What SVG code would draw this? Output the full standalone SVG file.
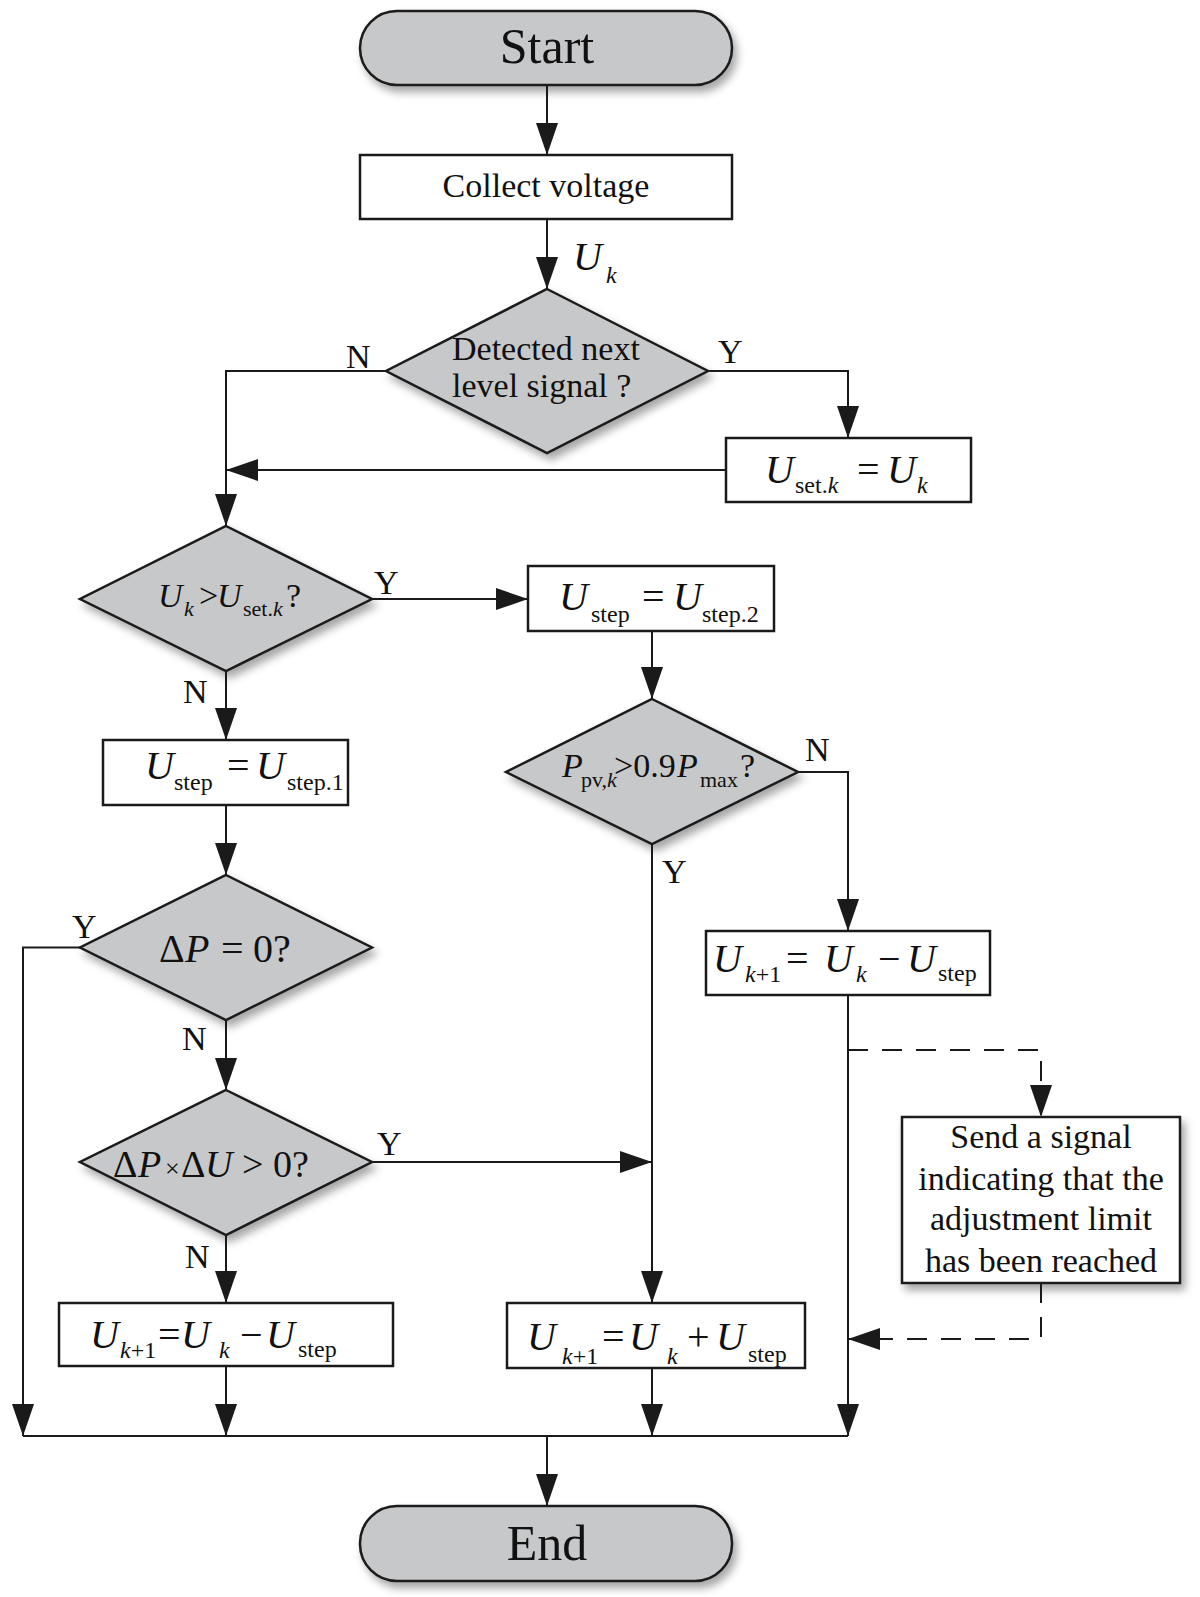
<svg xmlns="http://www.w3.org/2000/svg" width="1200" height="1597" viewBox="0 0 1200 1597">
<defs>
<filter id="sh" x="-10%" y="-10%" width="130%" height="140%">
<feDropShadow dx="4" dy="6" stdDeviation="4" flood-color="#000" flood-opacity="0.35"/>
</filter>
<marker id="ah" markerUnits="userSpaceOnUse" markerWidth="32" markerHeight="22" refX="32" refY="11" orient="auto">
<path d="M0,0 L32,11 L0,22 z" fill="#1a1a1a"/>
</marker>
</defs>
<style>
.f{font-family:"Liberation Serif","Times New Roman",serif;fill:#111}
.lbl{font-size:34px}
.m{font-size:40px;font-style:italic}
.o{font-size:40px}
.s{font-size:24px}
.si{font-size:24px;font-style:italic}
.dm{font-size:34px;font-style:italic}
.do{font-size:34px}
.ds{font-size:22px}
.dsi{font-size:22px;font-style:italic}
.grey{fill:#c7c8ca;stroke:#1a1a1a;stroke-width:2.5}
.box{fill:#fff;stroke:#1a1a1a;stroke-width:2.5}
.ln{fill:none;stroke:#1a1a1a;stroke-width:2}
.ar{marker-end:url(#ah)}
.dash{stroke-dasharray:20 14}
.c{text-anchor:middle}
</style>

<g id="start">
<rect x="360" y="11" width="372" height="74" rx="37" ry="37" class="grey" filter="url(#sh)"/>
<text class="f c" x="547" y="63" font-size="50">Start</text>
</g>

<g id="collect">
<rect x="360" y="155" width="372" height="64" class="box"/>
<text class="f lbl c" x="546" y="197">Collect voltage</text>
</g>

<g id="uk-label">
<text class="f"><tspan class="m" x="573" y="270">U</tspan><tspan class="si" x="606" y="283">k</tspan></text>
</g>

<g id="d1">
<polygon points="547,289 708,371 547,453 386,371" class="grey" filter="url(#sh)"/>
<text class="f lbl"><tspan x="452" y="360">Detected next</tspan><tspan x="452" y="397">level signal ?</tspan></text>
</g>

<g id="uset">
<rect x="726" y="438" width="245" height="64" class="box"/>
<text class="f"><tspan class="m" x="765" y="483">U</tspan><tspan class="s" x="795" y="493">set.</tspan><tspan class="si">k</tspan><tspan class="o" x="857" y="483">=</tspan><tspan class="m" x="887" y="483">U</tspan><tspan class="si" x="917" y="493">k</tspan></text>
</g>

<g id="d2">
<polygon points="226,526 372,599 226,671 80,599" class="grey" filter="url(#sh)"/>
<text class="f"><tspan class="dm" x="158" y="607">U</tspan><tspan class="dsi" x="184" y="616">k</tspan><tspan class="do" x="199" y="607">&gt;</tspan><tspan class="dm" x="217" y="607">U</tspan><tspan class="ds" x="243" y="616">set.</tspan><tspan class="dsi">k</tspan><tspan class="do" x="286" y="607">?</tspan></text>
</g>

<g id="ustep2">
<rect x="528" y="566" width="246" height="65" class="box"/>
<text class="f"><tspan class="m" x="559" y="610">U</tspan><tspan class="s" x="591" y="622">step</tspan><tspan class="o" x="642" y="610">=</tspan><tspan class="m" x="673" y="610">U</tspan><tspan class="s" x="702" y="622">step.2</tspan></text>
</g>

<g id="ustep1">
<rect x="103" y="740" width="245" height="65" class="box"/>
<text class="f"><tspan class="m" x="145" y="779">U</tspan><tspan class="s" x="174" y="790">step</tspan><tspan class="o" x="227" y="779">=</tspan><tspan class="m" x="256" y="779">U</tspan><tspan class="s" x="287" y="790">step.1</tspan></text>
</g>

<g id="d4">
<polygon points="652,699 798,772 652,844 506,772" class="grey" filter="url(#sh)"/>
<text class="f"><tspan class="dm" x="562" y="777">P</tspan><tspan class="ds" x="581" y="787">pv,</tspan><tspan class="dsi">k</tspan><tspan class="do" x="614" y="777">&gt;0.9</tspan><tspan class="dm" x="677" y="777">P</tspan><tspan class="ds" x="700" y="787">max</tspan><tspan class="do" x="740" y="777">?</tspan></text>
</g>

<g id="uminus-right">
<rect x="706" y="931" width="284" height="64" class="box"/>
<text class="f"><tspan class="m" x="713" y="972">U</tspan><tspan class="si" x="745" y="982">k</tspan><tspan class="s">+1</tspan><tspan class="o" x="786" y="972">=</tspan><tspan class="m" x="824" y="972">U</tspan><tspan class="si" x="856" y="982">k</tspan><tspan class="o" x="878" y="972">&#8722;</tspan><tspan class="m" x="907" y="972">U</tspan><tspan class="s" x="938" y="981">step</tspan></text>
</g>

<g id="dp0">
<polygon points="226,875 372,947.5 226,1020 80,947.5" class="grey" filter="url(#sh)"/>
<text class="f"><tspan class="o" x="159" y="962">&#916;</tspan><tspan class="m" x="185" y="962">P</tspan><tspan class="o" x="221" y="962">=</tspan><tspan class="o" x="253" y="962">0?</tspan></text>
</g>

<g id="dpdu">
<polygon points="226,1090 372,1162 226,1235 80,1162" class="grey" filter="url(#sh)"/>
<text class="f"><tspan x="113" y="1177" font-size="38">&#916;</tspan><tspan x="138" y="1177" font-size="38" font-style="italic">P</tspan><tspan x="165" y="1177" font-size="26">&#215;</tspan><tspan x="181" y="1177" font-size="38">&#916;</tspan><tspan x="205" y="1177" font-size="38" font-style="italic">U</tspan><tspan x="242" y="1177" font-size="38">&gt;</tspan><tspan x="273" y="1177" font-size="38">0?</tspan></text>
</g>

<g id="send">
<rect x="902" y="1117" width="278" height="166" class="box" filter="url(#sh)"/>
<text class="f lbl c"><tspan x="1041" y="1148">Send a signal</tspan><tspan x="1041" y="1190">indicating that the</tspan><tspan x="1041" y="1230">adjustment limit</tspan><tspan x="1041" y="1272">has been reached</tspan></text>
</g>

<g id="uminus-left">
<rect x="59" y="1303" width="334" height="63" class="box"/>
<text class="f"><tspan class="m" x="90" y="1348">U</tspan><tspan class="si" x="120" y="1358">k</tspan><tspan class="s">+1</tspan><tspan class="o" x="158" y="1348">=</tspan><tspan class="m" x="181" y="1348">U</tspan><tspan class="si" x="219" y="1358">k</tspan><tspan class="o" x="240" y="1348">&#8722;</tspan><tspan class="m" x="266" y="1348">U</tspan><tspan class="s" x="298" y="1357">step</tspan></text>
</g>

<g id="uplus">
<rect x="507" y="1303" width="298" height="65" class="box"/>
<text class="f"><tspan class="m" x="527" y="1350">U</tspan><tspan class="si" x="562" y="1364">k</tspan><tspan class="s">+1</tspan><tspan class="o" x="602" y="1350">=</tspan><tspan class="m" x="629" y="1350">U</tspan><tspan class="si" x="667" y="1364">k</tspan><tspan class="o" x="687" y="1350">+</tspan><tspan class="m" x="716" y="1350">U</tspan><tspan class="s" x="748" y="1362">step</tspan></text>
</g>

<g id="end">
<rect x="360" y="1506" width="372" height="75" rx="37" ry="37" class="grey" filter="url(#sh)"/>
<text class="f c" x="547" y="1560" font-size="50">End</text>
</g>

<g id="connectors">
<line x1="547" y1="85" x2="547" y2="155" class="ln ar"/>
<line x1="547" y1="219" x2="547" y2="289" class="ln ar"/>
<polyline points="386,371 226,371 226,526" class="ln ar"/>
<polyline points="708,371 848,371 848,438" class="ln ar"/>
<line x1="726" y1="470" x2="226" y2="470" class="ln ar"/>
<line x1="372" y1="599" x2="528" y2="599" class="ln ar"/>
<line x1="226" y1="671" x2="226" y2="740" class="ln ar"/>
<line x1="652" y1="631" x2="652" y2="699" class="ln ar"/>
<polyline points="798,772 848,772 848,931" class="ln ar"/>
<line x1="226" y1="805" x2="226" y2="875" class="ln ar"/>
<polyline points="80,947.5 23,947.5 23,1436" class="ln ar"/>
<line x1="226" y1="1020" x2="226" y2="1090" class="ln ar"/>
<line x1="372" y1="1162" x2="652" y2="1162" class="ln ar"/>
<line x1="652" y1="844" x2="652" y2="1303" class="ln ar"/>
<line x1="226" y1="1235" x2="226" y2="1303" class="ln ar"/>
<line x1="848" y1="995" x2="848" y2="1436" class="ln ar"/>
<polyline points="848,1050 1041,1050 1041,1117" class="ln ar dash"/>
<polyline points="1041,1283 1041,1339 848,1339" class="ln ar dash"/>
<line x1="226" y1="1366" x2="226" y2="1436" class="ln ar"/>
<line x1="652" y1="1368" x2="652" y2="1436" class="ln ar"/>
<line x1="23" y1="1436" x2="848" y2="1436" class="ln"/>
<line x1="547" y1="1436" x2="547" y2="1506" class="ln ar"/>
<g class="f lbl">
<text x="346" y="368">N</text>
<text x="718" y="363">Y</text>
<text x="374" y="594">Y</text>
<text x="183" y="703">N</text>
<text x="805" y="761">N</text>
<text x="662" y="883">Y</text>
<text x="72" y="938">Y</text>
<text x="182" y="1050">N</text>
<text x="377" y="1155">Y</text>
<text x="185" y="1268">N</text>
</g>
</g>
</svg>
